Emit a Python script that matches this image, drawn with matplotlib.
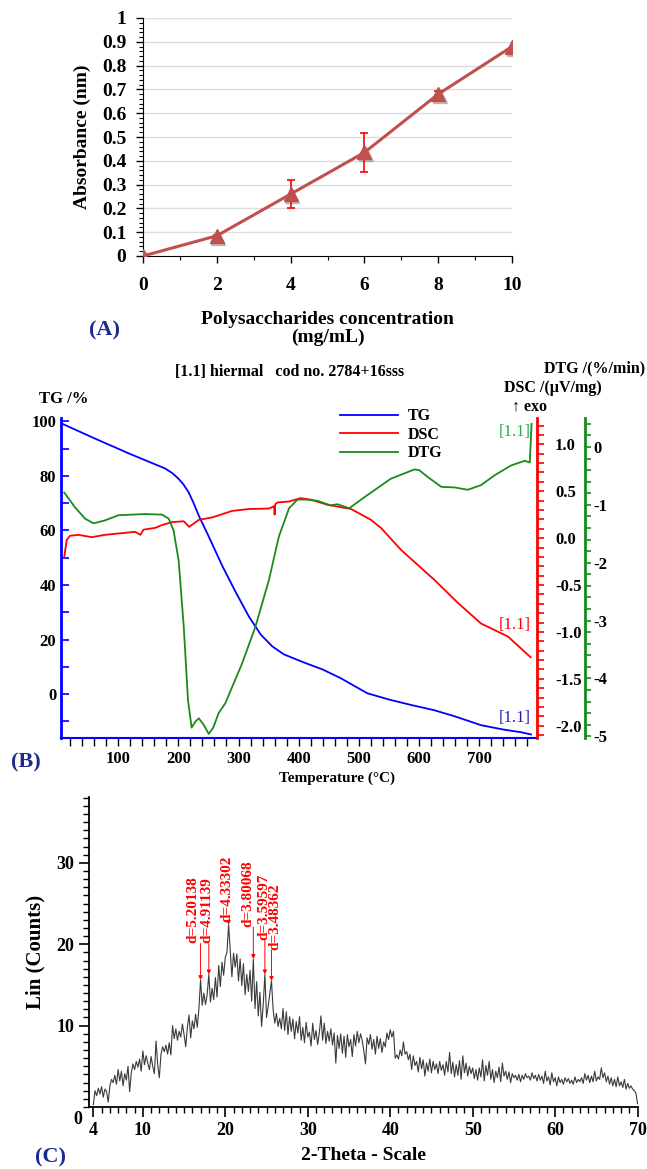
import matplotlib
matplotlib.use("Agg")
import matplotlib.pyplot as plt
import numpy as np
from matplotlib.ticker import MultipleLocator, FixedLocator
from matplotlib.lines import Line2D
from matplotlib import transforms

plt.rcParams['font.family'] = ['Liberation Serif', 'DejaVu Serif']
plt.rcParams['font.weight'] = 'bold'
plt.rcParams['axes.unicode_minus'] = False

W, H = 647, 1169

# ---------------- data: (A) calibration curve ----------------
conc = [0, 2, 4, 6, 8, 10]
absorb = [0.0, 0.085, 0.26, 0.435, 0.68, 0.88]
absorb_err = [0.0, 0.005, 0.06, 0.08, 0.015, 0.0]

# ---------------- data: (B) thermal analysis ----------------
tg_T = [5, 60, 120, 178, 190, 200, 208, 217, 225, 234, 250, 273, 295, 317, 337, 356,
        375, 395, 412, 440, 470, 514, 550, 587, 625, 660, 703, 740, 770, 786]
tg_val = [99.3, 93.8, 88.0, 82.7, 81.0, 79.0, 77.0, 74.0, 70.2, 65.4, 58.0, 47.0, 37.5, 28.5,
          21.8, 17.5, 14.6, 12.8, 11.3, 9.0, 5.8, 0.3, -2.0, -4.0, -5.9, -8.2, -11.4, -13.0, -14.0, -14.8]

dsc_T = [10.5, 14.5, 20, 34, 56, 78, 128, 137, 142, 162, 173, 189.5, 209, 218, 234, 256,
         289.5, 317, 350.5, 359, 360, 361, 364.5, 384, 403, 420, 448, 487, 520, 537,
         570, 625.5, 664.5, 703, 748, 785.5]
dsc_val = [-0.196, -0.02, 0.025, 0.035, 0.01, 0.035, 0.067, 0.035, 0.09, 0.11, 0.14, 0.17,
           0.18, 0.12, 0.195, 0.22, 0.29, 0.31, 0.315, 0.34, 0.25, 0.36, 0.38, 0.39, 0.426,
           0.41, 0.355, 0.31, 0.195, 0.107, -0.125, -0.445, -0.69, -0.91, -1.05, -1.27]

dtg_T = [10.5, 28, 45, 59, 78, 100.5, 145, 173, 184, 192, 200.5, 209, 216, 222, 228, 234,
         242, 250.5, 258, 267, 278, 306, 328, 350.5, 367, 384, 398, 412, 431, 453, 464.5,
         484, 509, 553, 592, 600, 614.5, 637, 659, 681, 703, 725.5, 753, 775.5, 784, 787]
dtg_val = [-0.79, -1.04, -1.24, -1.32, -1.27, -1.18, -1.16, -1.17, -1.24, -1.44, -1.96, -3.11,
           -4.37, -4.85, -4.75, -4.69, -4.80, -4.96, -4.85, -4.60, -4.43, -3.74, -3.11, -2.30,
           -1.55, -1.06, -0.91, -0.91, -0.93, -1.01, -0.99, -1.06, -0.87, -0.55, -0.39, -0.40,
           -0.52, -0.69, -0.70, -0.74, -0.66, -0.49, -0.32, -0.24, -0.27, 0.40]

# ---------------- data: (C) XRD pattern ----------------
two_theta = np.round(np.arange(4.0, 70.001, 0.2), 1)
counts = [
    0.3, 2.0, 1.4, 2.3, 1.6, 2.5, 1.2, 2.2, 1.9, 0.6,
    2.6, 3.4, 3.0, 3.9, 2.8, 4.6, 3.2, 4.4, 2.6, 4.1,
    3.3, 5.0, 1.9, 4.2, 5.3, 4.6, 5.6, 4.9, 5.9, 4.4,
    6.9, 5.2, 6.3, 5.4, 4.6, 6.2, 5.0, 4.1, 8.1, 5.2,
    3.6, 6.5, 7.4, 6.8, 7.6, 6.5, 7.9, 6.4, 10.0, 8.4,
    9.6, 8.2, 9.3, 8.6, 10.2, 8.9, 7.4, 9.8, 11.3, 8.5,
    10.6, 9.6, 11.4, 9.8, 12.1, 15.6, 12.5, 14.0, 12.6, 13.8,
    16.3, 12.9, 14.6, 13.2, 15.9, 13.5, 17.4, 14.8, 17.8, 16.2,
    18.4, 19.0, 22.4, 19.3, 16.0, 18.9, 17.2, 18.8, 15.5, 18.2,
    14.9, 17.6, 13.8, 16.3, 14.2, 16.8, 13.0, 18.2, 12.1, 15.4,
    11.2, 14.1, 9.9, 12.6, 16.3, 11.0, 12.4, 14.0, 15.5, 12.0,
    10.3, 11.5, 9.9, 10.9, 9.6, 12.1, 9.4, 11.7, 8.9, 11.1,
    9.3, 10.8, 8.4, 10.5, 9.1, 11.1, 8.2, 9.8, 7.9, 10.4,
    8.6, 9.2, 7.5, 10.3, 8.3, 9.4, 7.7, 9.1, 11.2, 8.2,
    10.3, 7.8, 9.3, 8.1, 9.6, 7.6, 9.1, 5.4, 8.8, 7.2,
    9.0, 6.6, 8.7, 6.1, 8.9, 7.4, 8.3, 6.2, 8.9, 7.5,
    9.3, 7.9, 9.0, 8.2, 6.9, 5.3, 8.5, 7.7, 8.9, 7.1,
    8.3, 6.5, 8.7, 7.2, 8.4, 6.7, 8.0, 7.4, 9.1, 8.3,
    9.5, 8.6, 9.3, 6.0, 6.4, 5.9, 7.0, 6.3, 8.0, 6.5,
    6.8, 5.8, 6.5, 4.6, 6.3, 5.1, 5.6, 4.3, 6.1, 4.7,
    5.8, 3.8, 5.4, 4.4, 5.9, 4.2, 5.6, 4.6, 5.3, 4.1,
    5.6, 4.5, 5.2, 3.9, 5.6, 4.3, 6.7, 4.1, 5.5, 3.7,
    5.2, 3.9, 5.7, 3.4, 6.3, 4.2, 5.4, 3.8, 5.0, 4.1,
    4.8, 3.5, 4.6, 3.3, 4.8, 3.7, 5.8, 3.2, 5.1, 3.9,
    5.6, 3.4, 4.6, 3.0, 4.4, 3.6, 4.9, 3.1, 5.4, 3.8,
    4.4, 3.4, 4.3, 3.0, 4.1, 3.6, 3.9, 3.3, 4.0, 3.1,
    3.9, 3.4, 4.1, 3.6, 3.8, 3.3, 4.2, 3.5, 3.9, 3.2,
    4.0, 3.3, 3.8, 2.9, 4.4, 3.2, 3.7, 2.7, 4.2, 3.1,
    3.6, 2.6, 3.7, 3.0, 3.4, 2.8, 3.6, 3.1, 3.5, 2.9,
    3.3, 2.8, 3.7, 3.0, 3.4, 3.1, 3.6, 2.9, 4.1, 3.3,
    3.9, 3.0, 3.8, 3.1, 4.4, 3.2, 3.7, 3.4, 4.8, 3.6,
    4.2, 3.1, 3.8, 2.8, 3.6, 2.6, 3.4, 2.5, 3.7, 2.6,
    3.1, 2.4, 3.4, 2.2, 2.9, 2.3, 2.6, 2.2, 2.0, 1.7,
    0.4,
]
peak_2theta = [17.0, 18.0, 20.4, 23.4, 24.8, 25.6]
peak_counts = [15.6, 16.3, 22.4, 18.2, 16.3, 15.5]
peak_labels = ['d=5.20138', 'd=4.91139', 'd=4.33302', 'd=3.80068', 'd=3.59597', 'd=3.48362']
label_base = [20.1, 20.1, 22.7, 22.1, 20.5, 19.3]
label_dx = [-0.9, -0.25, -0.25, -0.7, -0.1, 0.4]


def rect(l, t, r, b):
    return [l / W, 1 - b / H, (r - l) / W, (b - t) / H]


def ftext(x, y, s, **kw):
    fig.text(x / W, 1 - y / H, s, **kw)


fig = plt.figure(figsize=(W / 100, H / 100), dpi=100)
navy = '#1c2a8c'

# ================= (A) =================
axA = fig.add_axes(rect(143, 18, 512, 256))
for y in np.arange(0.1, 1.01, 0.1):
    axA.axhline(y, color='#dcdcdc', lw=1, zorder=0)
shadow = transforms.offset_copy(axA.transData, fig=fig, x=1.5, y=-2, units='dots')
axA.plot(conc, absorb, '^', color='#9a9a9a', ms=9.5, alpha=0.6, transform=shadow, zorder=2)
axA.plot(conc, absorb, '-', color='#C0504D', lw=2.2, zorder=3)
axA.errorbar(conc[1:-1], absorb[1:-1], yerr=absorb_err[1:-1], fmt='none', ecolor='red',
             elinewidth=1.2, capsize=3, capthick=1.2, zorder=4)
axA.plot(conc, absorb, '^', color='#C0504D', ms=9.5, zorder=5)
axA.set_xlim(0, 10)
axA.set_ylim(0, 1)
axA.xaxis.set_major_locator(MultipleLocator(2))
axA.xaxis.set_minor_locator(MultipleLocator(1))
axA.yaxis.set_major_locator(MultipleLocator(0.1))
axA.yaxis.set_minor_locator(MultipleLocator(0.02))
axA.set_yticklabels([f'{v:g}' for v in np.round(axA.get_yticks(), 1)])
for s in ['top', 'right']:
    axA.spines[s].set_visible(False)
axA.tick_params(axis='both', which='major', direction='out', length=5, width=1, labelsize=14, pad=10)
axA.tick_params(axis='both', which='minor', direction='out', length=3, width=0.8)
axA.tick_params(axis='y', pad=7)
for lab in axA.get_xticklabels() + axA.get_yticklabels():
    lab.set_fontweight('bold')
axA.set_ylabel('Absorbance (nm)', fontsize=14, fontweight='bold', labelpad=8)
axA.set_xlabel('Polysaccharides concentration\n(mg/mL)', fontsize=14, fontweight='bold',
               labelpad=12, linespacing=1.1)
ftext(105, 330, '(A)', color=navy, fontsize=16, fontweight='bold', ha='center', va='center')

# ================= (B) =================
axB = fig.add_axes(rect(61, 418, 537, 738))
axB.plot(tg_T, tg_val, color='#0000ff', lw=1.3, label='TG')
axB.set_xlim(5, 796)
axB.set_ylim(-16.1, 101.2)
axB.yaxis.set_major_locator(FixedLocator([0, 20, 40, 60, 80, 100]))
axB.yaxis.set_minor_locator(MultipleLocator(10))
axB.xaxis.set_minor_locator(MultipleLocator(20))
axB.set_xticks([100, 200, 300, 400, 500, 600, 700])
for s in ['top', 'right']:
    axB.spines[s].set_visible(False)
axB.spines['left'].set_color('#0000ff')
axB.spines['left'].set_linewidth(2)
axB.spines['bottom'].set_color('#0000ff')
axB.spines['bottom'].set_linewidth(1.5)
axB.tick_params(axis='y', which='both', colors='#0000ff', labelcolor='black', direction='in',
                width=1.2, length=6, labelsize=12)
axB.tick_params(axis='x', which='both', colors='black', direction='out', length=6, width=1,
                labelsize=12)
for lab in axB.get_xticklabels() + axB.get_yticklabels():
    lab.set_fontweight('bold')

ax2 = axB.twinx()
ax2.plot(dsc_T, dsc_val, color='#ff0000', lw=1.3, label='DSC')
ax2.set_ylim(-2.13, 1.28)
ax2.yaxis.set_major_locator(FixedLocator([-2.0, -1.5, -1.0, -0.5, 0.0, 0.5, 1.0]))
ax2.yaxis.set_minor_locator(MultipleLocator(0.1))
ax2.set_yticklabels(['-2.0', '-1.5', '-1.0', '-0.5', '0.0', '0.5', '1.0'])
for s in ['top', 'left', 'bottom']:
    ax2.spines[s].set_visible(False)
ax2.spines['right'].set_color('#ff0000')
ax2.spines['right'].set_linewidth(2)
ax2.tick_params(axis='y', which='both', colors='#ff0000', labelcolor='black', direction='out',
                length=5, width=1.2, labelsize=12, pad=8)

ax3 = axB.twinx()
ax3.plot(dtg_T, dtg_val, color='#1a8a1a', lw=1.3, label='DTG')
ax3.set_ylim(-5.03, 0.5)
ax3.spines['right'].set_position(('axes', (585 - 61) / (537 - 61)))
ax3.yaxis.set_major_locator(FixedLocator([-5, -4, -3, -2, -1, 0]))
ax3.yaxis.set_minor_locator(MultipleLocator(0.2))
for s in ['top', 'left', 'bottom']:
    ax3.spines[s].set_visible(False)
ax3.spines['right'].set_color('#1a8a1a')
ax3.spines['right'].set_linewidth(2)
ax3.tick_params(axis='y', which='both', colors='#1a8a1a', labelcolor='black', direction='out',
                length=4, width=1.2, labelsize=12, pad=2)
for lab in ax2.get_yticklabels() + ax3.get_yticklabels():
    lab.set_fontweight('bold')

handles = [Line2D([], [], color='#0000ff', lw=1.3), Line2D([], [], color='#ff0000', lw=1.3),
           Line2D([], [], color='#1a8a1a', lw=1.3)]
fig.legend(handles, ['TG', 'DSC', 'DTG'], loc='upper left', bbox_to_anchor=(326 / W, 1 - 394 / H),
           frameon=False, handlelength=3.6, labelspacing=0.15, handletextpad=0.6,
           prop={'weight': 'bold', 'size': 11.5})

ftext(290, 372, '[1.1] hiermal   cod no. 2784+16sss', fontsize=11.5, fontweight='bold',
      ha='center', va='center')
ftext(64, 399, 'TG /%', fontsize=12, fontweight='bold', ha='center', va='center')
ftext(645, 368, 'DTG /(%/min)', fontsize=11.5, fontweight='bold', ha='right', va='center')
ftext(602, 388, 'DSC /(\u00b5V/mg)', fontsize=11.5, fontweight='bold', ha='right', va='center')
ftext(512, 407, '\u2191 exo', fontsize=11.5, fontweight='bold', ha='left', va='center',
      family=['Liberation Serif', 'DejaVu Sans'])
ftext(531, 432, '[1.1]', color='#22b04a', fontsize=12, fontweight='normal', ha='right', va='center')
ftext(531, 625, '[1.1]', color='#ff0000', fontsize=12, fontweight='normal', ha='right', va='center')
ftext(531, 718, '[1.1]', color='#2020c0', fontsize=12, fontweight='normal', ha='right', va='center')
ftext(337, 778, 'Temperature (\u00b0C)', fontsize=11, fontweight='bold', ha='center', va='center')
ftext(26, 762, '(B)', color=navy, fontsize=16, fontweight='bold', ha='center', va='center')

# ================= (C) =================
axC = fig.add_axes(rect(89, 797, 638, 1107))
axC.plot(two_theta, counts, color='#3a3a3a', lw=0.8)
axC.set_xlim(3.47, 70.05)
axC.set_ylim(0, 38.1)
axC.xaxis.set_major_locator(FixedLocator([4, 10, 20, 30, 40, 50, 60, 70]))
axC.xaxis.set_minor_locator(MultipleLocator(1))
axC.yaxis.set_major_locator(FixedLocator([10, 20, 30]))
axC.yaxis.set_minor_locator(MultipleLocator(1))
for s in ['top', 'right']:
    axC.spines[s].set_visible(False)
axC.spines['left'].set_linewidth(1.3)
axC.spines['bottom'].set_linewidth(1.3)
axC.tick_params(axis='both', which='major', direction='out', length=7, width=1.2, labelsize=13)
axC.tick_params(axis='both', which='minor', direction='out', length=4, width=1)
for lab in axC.get_xticklabels() + axC.get_yticklabels():
    lab.set_fontweight('bold')
axC.set_xlabel('2-Theta - Scale', fontsize=14, fontweight='bold', labelpad=6)
axC.set_ylabel('Lin (Counts)', fontsize=15, fontweight='bold', labelpad=8)
for x0, h, lab, base, dx in zip(peak_2theta, peak_counts, peak_labels, label_base, label_dx):
    axC.annotate('', xy=(x0, h), xytext=(x0, base),
                 arrowprops=dict(arrowstyle='-|>', color='red', lw=0.7, mutation_scale=6,
                                 shrinkA=0, shrinkB=0))
    axC.text(x0 + dx, base, lab, rotation=90, color='red', fontsize=11, fontweight='bold',
             ha='center', va='bottom')
ftext(78, 1120, '0', fontsize=13, fontweight='bold', ha='center', va='center')
ftext(50, 1157, '(C)', color=navy, fontsize=16, fontweight='bold', ha='center', va='center')

fig.savefig('out.png', dpi=100)
